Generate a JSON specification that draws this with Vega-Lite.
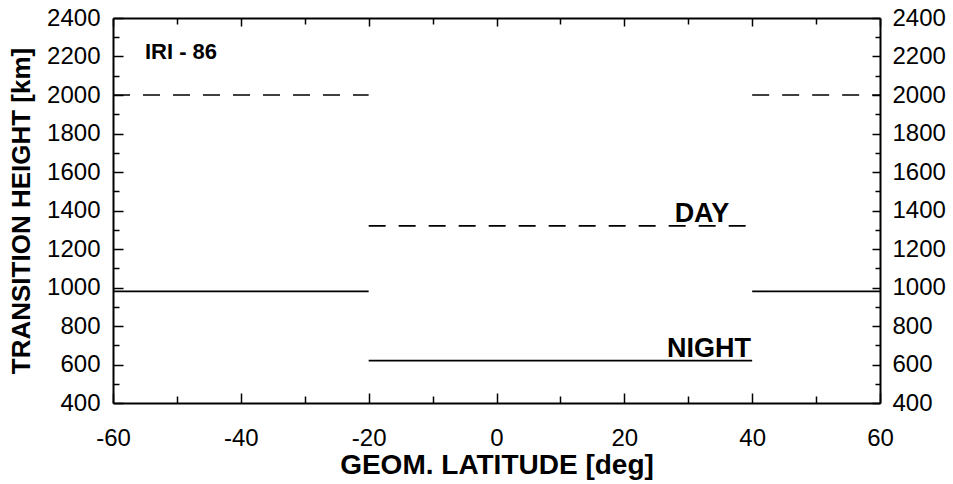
{
  "$schema": "https://vega.github.io/schema/vega-lite/v6.json",
  "width": 767,
  "height": 385,
  "autosize": {"type": "none"},
  "padding": {"left": 113, "top": 18, "right": 73, "bottom": 81},
  "background": "white",
  "datasets": {
    "segments": [
      {"lat_from": -60, "lat_to": -20, "height": 2000, "kind": "day"},
      {"lat_from": -20, "lat_to": 40, "height": 1320, "kind": "day"},
      {"lat_from": 40, "lat_to": 60, "height": 2000, "kind": "day"},
      {"lat_from": -60, "lat_to": -20, "height": 980, "kind": "night"},
      {"lat_from": -20, "lat_to": 40, "height": 620, "kind": "night"},
      {"lat_from": 40, "lat_to": 60, "height": 980, "kind": "night"}
    ],
    "labels": [
      {"lat": -55.0, "height": 2187, "label": "IRI - 86", "group": "model"},
      {"lat": 36.4, "height": 1340, "label": "DAY", "group": "curve"},
      {"lat": 39.8, "height": 639, "label": "NIGHT", "group": "curve"}
    ]
  },
  "config": {
    "view": {"stroke": null},
    "axis": {
      "domainColor": "black",
      "domainWidth": 2,
      "tickColor": "black",
      "tickWidth": 1.5,
      "grid": false,
      "labelFont": "Liberation Sans",
      "labelFontSize": 24,
      "labelColor": "black",
      "titleFont": "Liberation Sans",
      "titleFontSize": 26,
      "titleFontWeight": "bold",
      "titleColor": "black"
    }
  },
  "resolve": {"axis": {"x": "independent", "y": "independent"}},
  "layer": [
    {
      "data": {"name": "segments"},
      "mark": {"type": "rule", "strokeWidth": 1.6, "color": "black"},
      "encoding": {
        "x": {
          "field": "lat_from", "type": "quantitative",
          "scale": {"domain": [-60, 60], "nice": false, "zero": false},
          "axis": {
            "orient": "bottom",
            "title": "GEOM. LATITUDE [deg]",
            "titleFontSize": 28,
            "values": [-60, -50, -40, -30, -20, -10, 0, 10, 20, 30, 40, 50, 60],
            "labelExpr": "datum.value % 20 === 0 ? '' + datum.value : ''",
            "tickSize": {"condition": {"test": "datum.value % 20 === 0", "value": -10}, "value": -7},
            "labelPadding": 33,
            "labelFlush": false,
            "labelOverlap": false,
            "titlePadding": -2
          }
        },
        "x2": {"field": "lat_to"},
        "y": {
          "field": "height", "type": "quantitative",
          "scale": {"domain": [400, 2400], "nice": false, "zero": false},
          "axis": {
            "orient": "left",
            "title": "TRANSITION HEIGHT [km]",
            "values": [400, 500, 600, 700, 800, 900, 1000, 1100, 1200, 1300, 1400, 1500, 1600, 1700, 1800, 1900, 2000, 2100, 2200, 2300, 2400],
            "labelExpr": "datum.value % 200 === 0 ? '' + datum.value : ''",
            "tickSize": {"condition": {"test": "datum.value % 200 === 0", "value": -10}, "value": -6},
            "labelPadding": 23,
            "labelFlush": false,
            "labelOverlap": false,
            "titlePadding": 12
          }
        },
        "strokeDash": {
          "field": "kind", "type": "nominal",
          "scale": {"domain": ["day", "night"], "range": [[17, 13], [1, 0]]},
          "legend": null
        }
      }
    },
    {
      "data": {"name": "labels"},
      "transform": [{"filter": "datum.group === 'model'"}],
      "mark": {"type": "text", "align": "left", "baseline": "alphabetic", "font": "Liberation Sans", "fontWeight": "bold", "fontSize": 22, "color": "black"},
      "encoding": {
        "x": {
          "field": "lat", "type": "quantitative",
          "axis": {
            "orient": "top",
            "title": null,
            "values": [-60, -50, -40, -30, -20, -10, 0, 10, 20, 30, 40, 50, 60],
            "labels": false,
            "tickSize": {"condition": {"test": "datum.value % 20 === 0", "value": -8}, "value": -6}
          }
        },
        "y": {
          "field": "height", "type": "quantitative",
          "axis": {
            "orient": "right",
            "title": null,
            "values": [400, 500, 600, 700, 800, 900, 1000, 1100, 1200, 1300, 1400, 1500, 1600, 1700, 1800, 1900, 2000, 2100, 2200, 2300, 2400],
            "labelExpr": "datum.value % 200 === 0 ? '' + datum.value : ''",
            "tickSize": {"condition": {"test": "datum.value % 200 === 0", "value": -8}, "value": -5},
            "labelPadding": 20,
            "labelFlush": false,
            "labelOverlap": false
          }
        },
        "text": {"field": "label", "type": "nominal"}
      }
    },
    {
      "data": {"name": "labels"},
      "transform": [{"filter": "datum.group === 'curve'"}],
      "mark": {"type": "text", "align": "right", "baseline": "alphabetic", "font": "Liberation Sans", "fontWeight": "bold", "fontSize": 27, "color": "black"},
      "encoding": {
        "x": {"field": "lat", "type": "quantitative", "axis": null},
        "y": {"field": "height", "type": "quantitative", "axis": null},
        "text": {"field": "label", "type": "nominal"}
      }
    }
  ]
}
